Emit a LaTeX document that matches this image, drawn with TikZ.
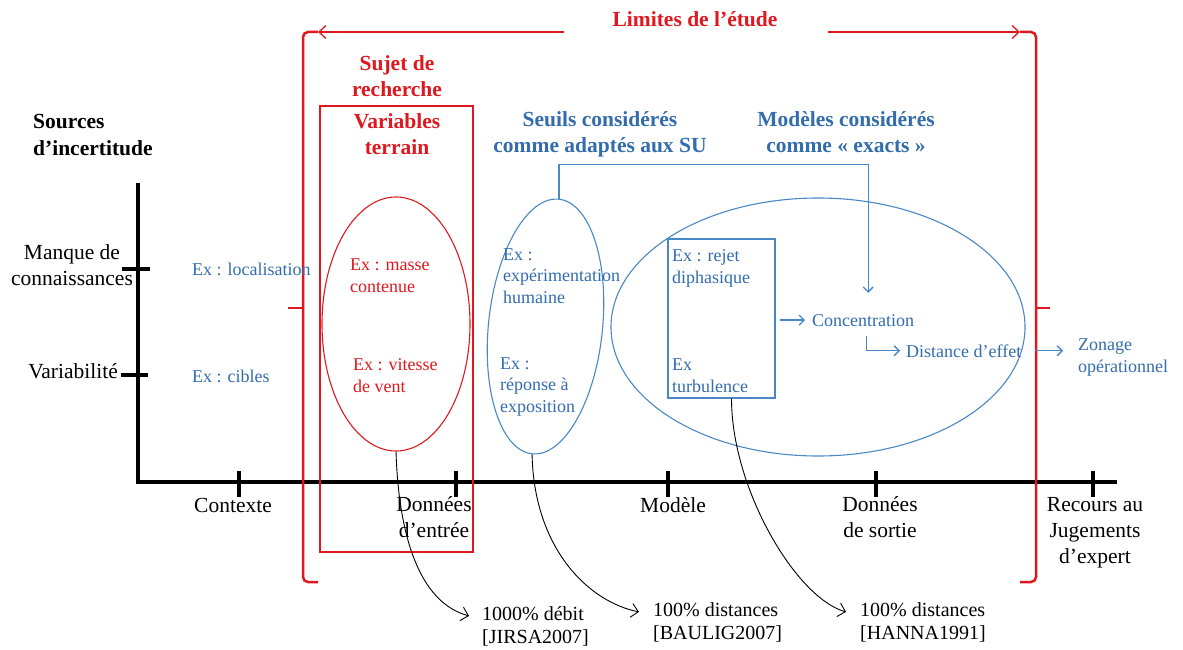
\documentclass[tikz,border=0pt]{standalone}
\usepackage{fontspec}
\setmainfont{Liberation Serif}
\usetikzlibrary{arrows.meta,shapes.geometric}
\definecolor{sred}{RGB}{222,24,30}
\definecolor{sblue}{RGB}{50,108,172}
\definecolor{lblue}{RGB}{72,136,196}
\begin{document}
\begin{tikzpicture}[x=1pt,y=1pt,
  lbl/.style={inner sep=0pt, font=\fontsize{21.5}{26}\selectfont, align=center},
  head/.style={inner sep=0pt, font=\fontsize{21.5}{26}\selectfont\bfseries, align=center},
  ex/.style={inner sep=0pt, font=\fontsize{18}{21.5}\selectfont, text=sblue, align=left, anchor=base west},
  exred/.style={ex, text=sred},
  refl/.style={inner sep=0pt, font=\fontsize{20}{23}\selectfont, align=left, anchor=base west},
  axisline/.style={line width=4pt, line join=miter},
  axtick/.style={line width=3.5pt},
  bracket/.style={sred, line width=2.5pt, rounded corners=5pt},
  limarrow/.style={sred, line width=1.3pt, -{Straight Barb[length=7pt,width=13pt]}},
  barrow/.style={lblue, line width=1.3pt, -{Straight Barb[length=5pt,width=10pt]}},
  curv/.style={black, line width=0.9pt, -{Straight Barb[length=7pt,width=14pt]}},
  blueshape/.style={draw=lblue, line width=1.1pt, inner sep=0pt}
]
\useasboundingbox (0,0) rectangle (1183,-650);

% uncertainty axes
\coordinate (ytop) at (138,-183);
\coordinate (orig) at (138,-482);
\coordinate (xend) at (1117,-482);
\draw[axisline] (ytop) -- (orig) -- (xend);
\foreach \x in {239,456,668,876,1093} \draw[axtick] (\x,-471) -- (\x,-497);
\draw[axtick] (122,-269) -- (150,-269);
\draw[axtick] (121,-375) -- (148,-375);

% axis labels (multi-line nodes sit on the baseline of their last line)
\node[head, align=left, anchor=base west] (src) at (33,-155) {Sources\\d’incertitude};
\node[lbl, anchor=base] (manque) at (72,-285) {Manque de\\connaissances};
\node[lbl, anchor=base east] (varia) at (118,-378) {Variabilité};
\node[lbl, anchor=base] (ctx) at (233,-512) {Contexte};
\node[lbl, anchor=base] (din) at (434,-537) {Données\\d’entrée};
\node[lbl, anchor=base] (mod) at (673,-512) {Modèle};
\node[lbl, anchor=base] (dout) at (880,-537) {Données\\de sortie};
\node[lbl, anchor=base] (rec) at (1095,-563) {Recours au\\Jugements\\d’expert};

% limits of the study
\coordinate (bl) at (318,-32);
\coordinate (br) at (1020,-32);
\draw[bracket] (bl) -| (303,-582) -- (318,-582);
\draw[bracket] (303,-308) -- (288,-308);
\draw[bracket] (br) -| (1036,-582) -- (1020,-582);
\draw[bracket] (1036,-308) -- (1050,-308);
\node[head, text=sred, anchor=base] (lim) at (695,-27) {Limites de l’étude};
\draw[limarrow] ([xshift=-48pt]lim.west |- bl) -- (bl);
\draw[limarrow] ([xshift=50pt]lim.east |- br) -- (br);

% research subject
\node[head, text=sred, anchor=base] (sujet) at (397,-97) {Sujet de\\recherche};
\node[draw=sred, line width=2.5pt, minimum width=153pt, minimum height=446pt, inner sep=0pt] (subj) at (396.5,-329) {};
\node[head, text=sred, anchor=base] (vart) at (397,-154) {Variables\\terrain};
\node[ellipse, draw=sred, line width=1.1pt, minimum width=148pt, minimum height=254pt, inner sep=0pt] (redell) at (396,-324) {};
\node[exred] (exmas) at (350,-292) {Ex : masse\\contenue};
\node[exred] (exvit) at (353,-392) {Ex : vitesse\\de vent};

% thresholds and models
\node[head, text=sblue, anchor=base] (seuilt) at (600,-153) {Seuils considérés\\comme adaptés aux SU};
\node[head, text=sblue, anchor=base] (modt) at (846,-153) {Modèles considérés\\comme « exacts »};
\node[ellipse, blueshape, minimum width=114pt, minimum height=256pt, rotate=-6] (seuil) at (545.5,-326.5) {};
\node[ellipse, blueshape, minimum width=414pt, minimum height=258pt] (modell) at (818,-327) {};
\node[blueshape, line width=1.2pt, minimum width=107pt, minimum height=159pt] (mrect) at (721.5,-318.5) {};

\node[ex] (exloc) at (192,-275) {Ex : localisation};
\node[ex] (excib) at (192,-382) {Ex : cibles};
\node[ex] (exexp) at (503,-303) {Ex :\\expérimentation\\humaine};
\node[ex] (exrep) at (500,-412) {Ex :\\réponse à\\exposition};
\node[ex] (exrej) at (672,-283) {Ex : rejet\\diphasique};
\node[ex] (exturb) at (672,-392) {Ex\\turbulence};
\node[ex] (conc) at (812,-326) {Concentration};
\node[ex] (dist) at (906,-357) {Distance d’effet};
\node[ex] (zon) at (1078,-372) {Zonage\\opérationnel};

\draw[barrow] (seuil.north) -- ++(0,34) -| ([xshift=5pt,yshift=21pt]conc.north);
\draw[barrow] ([xshift=4pt]mrect.east |- conc.west) -- ([xshift=-7pt]conc.west);
\draw[barrow] ([xshift=3pt,yshift=-10pt]conc.south) |- ([xshift=-6pt]dist.west);
\draw[barrow] ([xshift=13pt]dist.east) -- ([xshift=-15pt]zon.west |- dist.east);

% references
\node[refl] (jir) at (482,-643) {1000\% débit\\{[JIRSA2007]}};
\node[refl] (bau) at (653,-639) {100\% distances\\{[BAULIG2007]}};
\node[refl] (han) at (860,-639) {100\% distances\\{[HANNA1991]}};
\draw[curv] (redell.south) .. controls +(3,-95) and +(-45,12) .. ([xshift=-13pt,yshift=10pt]jir.west);
\draw[curv] (seuil.south) .. controls +(2,-95) and +(-50,10) .. ([xshift=-14pt,yshift=10pt]bau.west);
\draw[curv] ([xshift=10pt]mrect.south) .. controls +(0,-90) and +(-50,14) .. ([xshift=-14pt,yshift=10pt]han.west);
\end{tikzpicture}
\end{document}
